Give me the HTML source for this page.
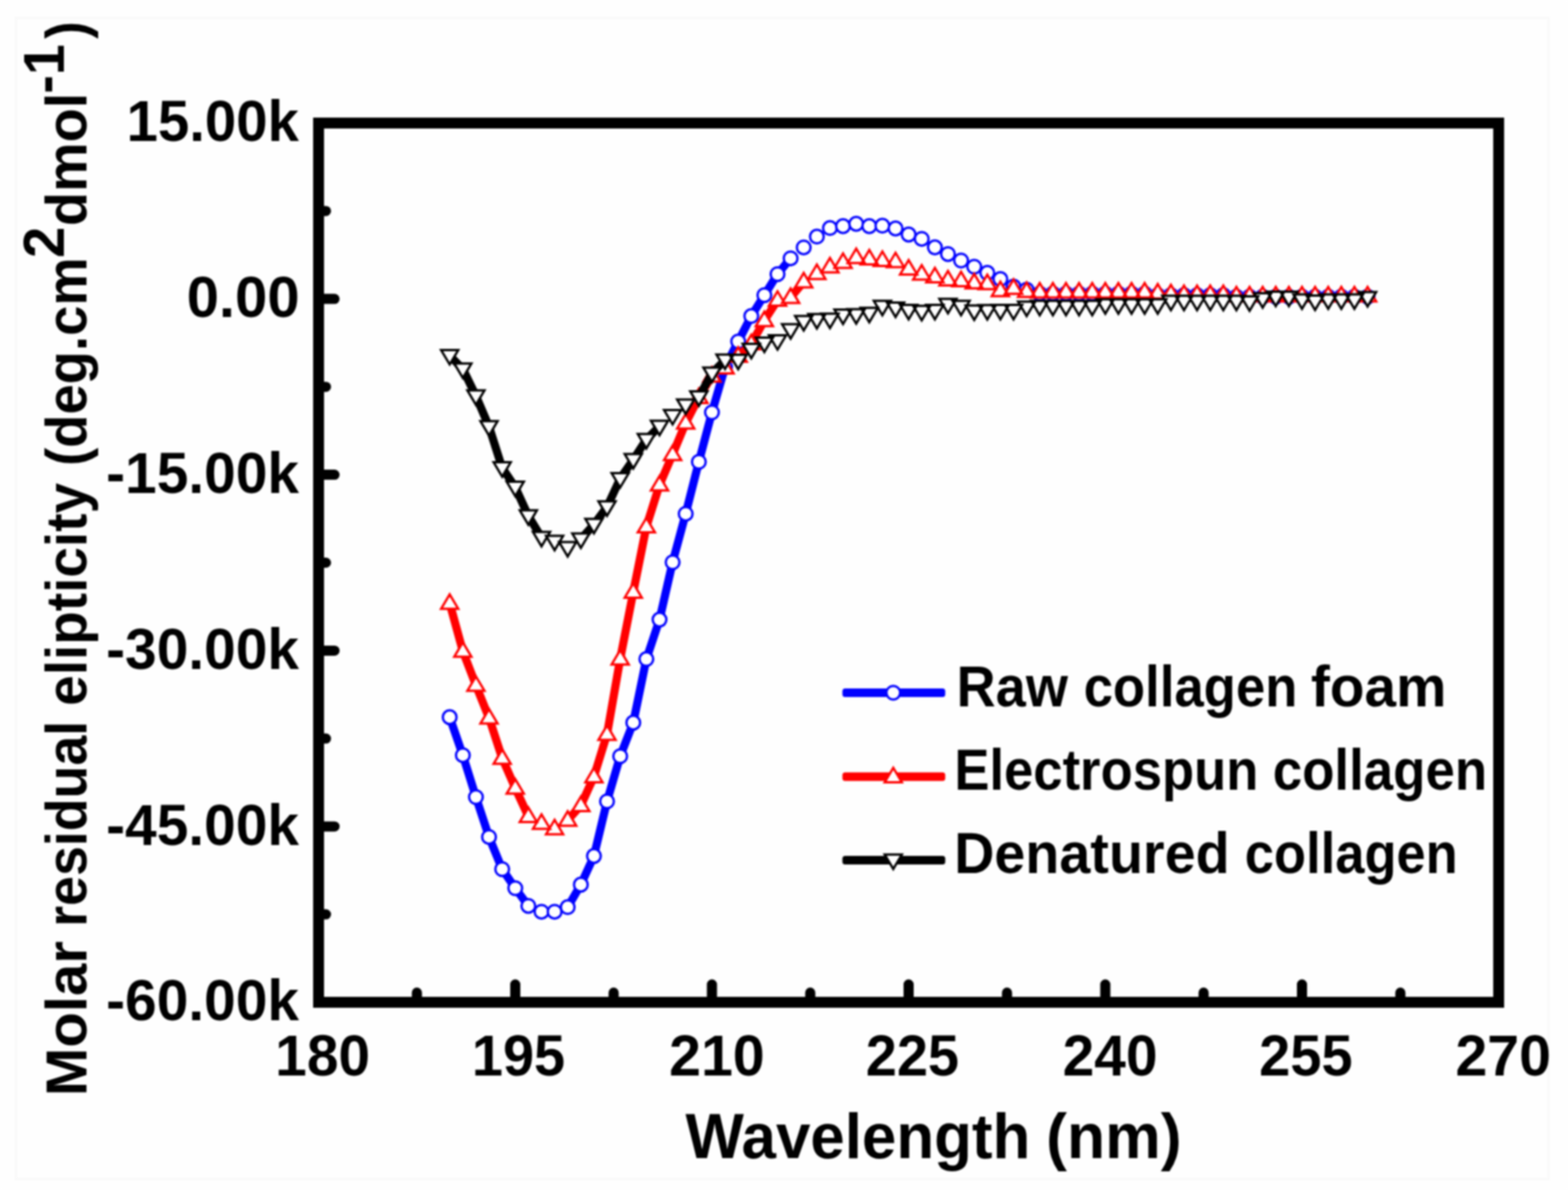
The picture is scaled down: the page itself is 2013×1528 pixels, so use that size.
<!DOCTYPE html>
<html lang="en">
<head>
<meta charset="utf-8">
<title>CD spectra of collagen</title>
<style>
html,body{margin:0;padding:0;background:#fefefe;}
body{width:2013px;height:1528px;overflow:hidden;font-family:"Liberation Sans",Arial,sans-serif;}
svg{display:block;filter:blur(1px);}
</style>
</head>
<body>
<svg width="2013" height="1528" viewBox="0 0 2013 1528" role="img" aria-label="Circular dichroism spectra" font-family="&quot;Liberation Sans&quot;, Arial, Helvetica, sans-serif" font-weight="bold">
<rect width="2013" height="1528" fill="#fefefe"/>
<rect x="20.5" y="23" width="1967.5" height="1491" fill="none" stroke="#f9f9f9" stroke-width="2.9"/>
<g id="s-blue"><path d="M577.3 920.9L594.2 969.7L611 1023.5L627.8 1074.7L644.7 1116L661.5 1140.5L678.3 1163.2M728.8 1164.8L745.7 1135.9L762.5 1099.1L779.3 1029L796.2 971L813 927.9L829.8 846.3L846.7 795.6L863.5 722L880.3 659.7L897.2 593L914 529.5L930.8 471.5L947.7 438.5L964.5 405.8L981.3 379L998.2 352L1015 331.7" fill="none" stroke="#0000ff" stroke-width="10.5" stroke-linejoin="round"/>
<g fill="#fff" stroke="#0000ff" stroke-width="3"><circle cx="577.3" cy="920.9" r="8.8"/><circle cx="594.2" cy="969.7" r="8.8"/><circle cx="611" cy="1023.5" r="8.8"/><circle cx="627.8" cy="1074.7" r="8.8"/><circle cx="644.7" cy="1116" r="8.8"/><circle cx="661.5" cy="1140.5" r="8.8"/><circle cx="678.3" cy="1163.2" r="8.8"/><circle cx="695.2" cy="1170.7" r="8.8"/><circle cx="712" cy="1170.7" r="8.8"/><circle cx="728.8" cy="1164.8" r="8.8"/><circle cx="745.7" cy="1135.9" r="8.8"/><circle cx="762.5" cy="1099.1" r="8.8"/><circle cx="779.3" cy="1029" r="8.8"/><circle cx="796.2" cy="971" r="8.8"/><circle cx="813" cy="927.9" r="8.8"/><circle cx="829.8" cy="846.3" r="8.8"/><circle cx="846.7" cy="795.6" r="8.8"/><circle cx="863.5" cy="722" r="8.8"/><circle cx="880.3" cy="659.7" r="8.8"/><circle cx="897.2" cy="593" r="8.8"/><circle cx="914" cy="529.5" r="8.8"/><circle cx="930.8" cy="471.5" r="8.8"/><circle cx="947.7" cy="438.5" r="8.8"/><circle cx="964.5" cy="405.8" r="8.8"/><circle cx="981.3" cy="379" r="8.8"/><circle cx="998.2" cy="352" r="8.8"/><circle cx="1015" cy="331.7" r="8.8"/><circle cx="1031.8" cy="317.7" r="8.8"/><circle cx="1048.7" cy="303.8" r="8.8"/><circle cx="1065.5" cy="292.8" r="8.8"/><circle cx="1082.3" cy="290.4" r="8.8"/><circle cx="1099.2" cy="287.4" r="8.8"/><circle cx="1116" cy="290.4" r="8.8"/><circle cx="1132.8" cy="289.8" r="8.8"/><circle cx="1149.7" cy="293.4" r="8.8"/><circle cx="1166.5" cy="301.1" r="8.8"/><circle cx="1183.3" cy="306.7" r="8.8"/><circle cx="1200.2" cy="317.6" r="8.8"/><circle cx="1217" cy="326.2" r="8.8"/><circle cx="1233.8" cy="334.5" r="8.8"/><circle cx="1250.7" cy="342.5" r="8.8"/><circle cx="1267.5" cy="350.4" r="8.8"/><circle cx="1284.3" cy="358.4" r="8.8"/><circle cx="1301.2" cy="368" r="8.8"/><circle cx="1318" cy="372" r="8.8"/><circle cx="1334.8" cy="377" r="8.8"/><circle cx="1351.7" cy="377" r="8.8"/><circle cx="1368.5" cy="377" r="8.8"/><circle cx="1385.3" cy="377" r="8.8"/><circle cx="1402.2" cy="377" r="8.8"/><circle cx="1419" cy="377" r="8.8"/><circle cx="1435.8" cy="377" r="8.8"/><circle cx="1452.7" cy="377" r="8.8"/><circle cx="1469.5" cy="377" r="8.8"/><circle cx="1486.3" cy="379" r="8.8"/><circle cx="1503.2" cy="379" r="8.8"/><circle cx="1520" cy="379" r="8.8"/><circle cx="1536.8" cy="379" r="8.8"/><circle cx="1553.7" cy="379" r="8.8"/><circle cx="1570.5" cy="379" r="8.8"/><circle cx="1587.3" cy="381" r="8.8"/><circle cx="1604.2" cy="381" r="8.8"/><circle cx="1621" cy="381" r="8.8"/><circle cx="1637.8" cy="381" r="8.8"/><circle cx="1654.7" cy="381" r="8.8"/><circle cx="1671.5" cy="381" r="8.8"/><circle cx="1688.3" cy="381" r="8.8"/><circle cx="1705.2" cy="381" r="8.8"/><circle cx="1722" cy="381" r="8.8"/><circle cx="1738.8" cy="381" r="8.8"/><circle cx="1755.7" cy="381" r="8.8"/></g></g>
<g id="s-red"><path d="M577.3 774.5L594.2 836.1L611 879.9L627.8 921.7L644.7 973.5L661.5 1011.8L678.3 1048.2M728.8 1053.1L745.7 1034.2L762.5 997.3L779.3 942.8L796.2 846.1L813 760.2L829.8 676.4L846.7 622.6L863.5 583.5L880.3 543.1L897.2 510.3L914 482.8M947.7 457.3L964.5 441.3L981.3 411.5L998.2 385.4M1015 381.8L1031.8 361.8" fill="none" stroke="#ff0000" stroke-width="10.5" stroke-linejoin="round"/>
<path fill="#fff" stroke="#ff0000" stroke-width="3" stroke-linejoin="miter" d="M566.3 781.7L588.3 781.7L577.3 763.2ZM583.2 843.3L605.2 843.3L594.2 824.8ZM600 887.1L622 887.1L611 868.6ZM616.8 928.9L638.8 928.9L627.8 910.4ZM633.7 980.7L655.7 980.7L644.7 962.2ZM650.5 1019L672.5 1019L661.5 1000.5ZM667.3 1055.4L689.3 1055.4L678.3 1036.9ZM684.2 1064.3L706.2 1064.3L695.2 1045.8ZM701 1071.3L723 1071.3L712 1052.8ZM717.8 1060.3L739.8 1060.3L728.8 1041.8ZM734.7 1041.4L756.7 1041.4L745.7 1022.9ZM751.5 1004.5L773.5 1004.5L762.5 986ZM768.3 950L790.3 950L779.3 931.5ZM785.2 853.3L807.2 853.3L796.2 834.8ZM802 767.4L824 767.4L813 748.9ZM818.8 683.6L840.8 683.6L829.8 665.1ZM835.7 629.8L857.7 629.8L846.7 611.3ZM852.5 590.7L874.5 590.7L863.5 572.2ZM869.3 550.3L891.3 550.3L880.3 531.8ZM886.2 517.5L908.2 517.5L897.2 499ZM903 490L925 490L914 471.5ZM919.8 479.5L941.8 479.5L930.8 461ZM936.7 464.5L958.7 464.5L947.7 446ZM953.5 448.5L975.5 448.5L964.5 430ZM970.3 418.7L992.3 418.7L981.3 400.2ZM987.2 392.6L1009.2 392.6L998.2 374.1ZM1004 389L1026 389L1015 370.5ZM1020.8 369L1042.8 369L1031.8 350.5ZM1037.7 358.3L1059.7 358.3L1048.7 339.8ZM1054.5 349.8L1076.5 349.8L1065.5 331.3ZM1071.3 343.9L1093.3 343.9L1082.3 325.4ZM1088.2 337.8L1110.2 337.8L1099.2 319.3ZM1105 339.5L1127 339.5L1116 321ZM1121.8 341.5L1143.8 341.5L1132.8 323ZM1138.7 343.1L1160.7 343.1L1149.7 324.6ZM1155.5 352.4L1177.5 352.4L1166.5 333.9ZM1172.3 359L1194.3 359L1183.3 340.5ZM1189.2 362.4L1211.2 362.4L1200.2 343.9ZM1206 366.4L1228 366.4L1217 347.9ZM1222.8 367.4L1244.8 367.4L1233.8 348.9ZM1239.7 370.3L1261.7 370.3L1250.7 351.8ZM1256.5 371.3L1278.5 371.3L1267.5 352.8ZM1273.3 380.3L1295.3 380.3L1284.3 361.8ZM1290.2 377.3L1312.2 377.3L1301.2 358.8ZM1307 381.3L1329 381.3L1318 362.8ZM1323.8 382L1345.8 382L1334.8 363.5ZM1340.7 382L1362.7 382L1351.7 363.5ZM1357.5 382L1379.5 382L1368.5 363.5ZM1374.3 382L1396.3 382L1385.3 363.5ZM1391.2 382L1413.2 382L1402.2 363.5ZM1408 382L1430 382L1419 363.5ZM1424.8 382L1446.8 382L1435.8 363.5ZM1441.7 382L1463.7 382L1452.7 363.5ZM1458.5 382L1480.5 382L1469.5 363.5ZM1475.3 383.3L1497.3 383.3L1486.3 364.8ZM1492.2 384.3L1514.2 384.3L1503.2 365.8ZM1509 385.3L1531 385.3L1520 366.8ZM1525.8 385.3L1547.8 385.3L1536.8 366.8ZM1542.7 385.3L1564.7 385.3L1553.7 366.8ZM1559.5 385.3L1581.5 385.3L1570.5 366.8ZM1576.3 387L1598.3 387L1587.3 368.5ZM1593.2 387L1615.2 387L1604.2 368.5ZM1610 387L1632 387L1621 368.5ZM1626.8 387L1648.8 387L1637.8 368.5ZM1643.7 387L1665.7 387L1654.7 368.5ZM1660.5 387L1682.5 387L1671.5 368.5ZM1677.3 387L1699.3 387L1688.3 368.5ZM1694.2 387L1716.2 387L1705.2 368.5ZM1711 387L1733 387L1722 368.5ZM1727.8 387L1749.8 387L1738.8 368.5ZM1744.7 387L1766.7 387L1755.7 368.5Z"/></g>
<g id="s-black"><path d="M577.3 456.6L594.2 473.9L611 508.4L627.8 547.9L644.7 600.8L661.5 625.7L678.3 662.5L695.2 690.2M745.7 692.3L762.5 673.4L779.3 651L796.2 614.6L813 590.3L829.8 564.4L846.7 547.5M897.2 509.7L914 479.2L930.8 462.4" fill="none" stroke="#000" stroke-width="10.5" stroke-linejoin="round"/>
<path fill="#fff" stroke="#000" stroke-width="3" stroke-linejoin="miter" d="M566.3 449.4L588.3 449.4L577.3 467.9ZM583.2 466.7L605.2 466.7L594.2 485.2ZM600 501.2L622 501.2L611 519.7ZM616.8 540.7L638.8 540.7L627.8 559.2ZM633.7 593.6L655.7 593.6L644.7 612.1ZM650.5 618.5L672.5 618.5L661.5 637ZM667.3 655.3L689.3 655.3L678.3 673.8ZM684.2 683L706.2 683L695.2 701.5ZM701 688.1L723 688.1L712 706.6ZM717.8 696.1L739.8 696.1L728.8 714.6ZM734.7 685.1L756.7 685.1L745.7 703.6ZM751.5 666.2L773.5 666.2L762.5 684.7ZM768.3 643.8L790.3 643.8L779.3 662.3ZM785.2 607.4L807.2 607.4L796.2 625.9ZM802 583.1L824 583.1L813 601.6ZM818.8 557.2L840.8 557.2L829.8 575.7ZM835.7 540.3L857.7 540.3L846.7 558.8ZM852.5 526.4L874.5 526.4L863.5 544.9ZM869.3 513.1L891.3 513.1L880.3 531.6ZM886.2 502.5L908.2 502.5L897.2 521ZM903 472L925 472L914 490.5ZM919.8 455.2L941.8 455.2L930.8 473.7ZM936.7 455.5L958.7 455.5L947.7 474ZM953.5 441.5L975.5 441.5L964.5 460ZM970.3 433.6L992.3 433.6L981.3 452.1ZM987.2 430.4L1009.2 430.4L998.2 448.9ZM1004 416.3L1026 416.3L1015 434.8ZM1020.8 405.7L1042.8 405.7L1031.8 424.2ZM1037.7 403.3L1059.7 403.3L1048.7 421.8ZM1054.5 402.8L1076.5 402.8L1065.5 421.3ZM1071.3 397.6L1093.3 397.6L1082.3 416.1ZM1088.2 397L1110.2 397L1099.2 415.5ZM1105 395.2L1127 395.2L1116 413.7ZM1121.8 386.3L1143.8 386.3L1132.8 404.8ZM1138.7 388.6L1160.7 388.6L1149.7 407.1ZM1155.5 391.6L1177.5 391.6L1166.5 410.1ZM1172.3 392.8L1194.3 392.8L1183.3 411.3ZM1189.2 391.6L1211.2 391.6L1200.2 410.1ZM1206 383.7L1228 383.7L1217 402.2ZM1222.8 386.3L1244.8 386.3L1233.8 404.8ZM1239.7 392.2L1261.7 392.2L1250.7 410.7ZM1256.5 391.8L1278.5 391.8L1267.5 410.3ZM1273.3 391.6L1295.3 391.6L1284.3 410.1ZM1290.2 391.6L1312.2 391.6L1301.2 410.1ZM1307 387.2L1329 387.2L1318 405.7ZM1323.8 386.3L1345.8 386.3L1334.8 404.8ZM1340.7 386.3L1362.7 386.3L1351.7 404.8ZM1357.5 386.3L1379.5 386.3L1368.5 404.8ZM1374.3 386.3L1396.3 386.3L1385.3 404.8ZM1391.2 386.3L1413.2 386.3L1402.2 404.8ZM1408 384.3L1430 384.3L1419 402.8ZM1424.8 384.3L1446.8 384.3L1435.8 402.8ZM1441.7 384.3L1463.7 384.3L1452.7 402.8ZM1458.5 384.3L1480.5 384.3L1469.5 402.8ZM1475.3 384.3L1497.3 384.3L1486.3 402.8ZM1492.2 379.8L1514.2 379.8L1503.2 398.3ZM1509 379.8L1531 379.8L1520 398.3ZM1525.8 379.8L1547.8 379.8L1536.8 398.3ZM1542.7 379.8L1564.7 379.8L1553.7 398.3ZM1559.5 379.8L1581.5 379.8L1570.5 398.3ZM1576.3 379.8L1598.3 379.8L1587.3 398.3ZM1593.2 380.6L1615.2 380.6L1604.2 399.1ZM1610 376.6L1632 376.6L1621 395.1ZM1626.8 374.6L1648.8 374.6L1637.8 393.1ZM1643.7 374.6L1665.7 374.6L1654.7 393.1ZM1660.5 378L1682.5 378L1671.5 396.5ZM1677.3 379.6L1699.3 379.6L1688.3 398.1ZM1694.2 378L1716.2 378L1705.2 396.5ZM1711 378L1733 378L1722 396.5ZM1727.8 378L1749.8 378L1738.8 396.5ZM1744.7 375L1766.7 375L1755.7 393.5Z"/></g>
<g id="axes" stroke="#000" fill="none">
<rect x="409" y="158" width="1515" height="1129" stroke-width="14" stroke-linejoin="miter"/>
<path d="M535.2 1287L535.2 1274.5M661.5 1287L661.5 1264M787.8 1287L787.8 1274.5M914 1287L914 1264M1040.2 1287L1040.2 1274.5M1166.5 1287L1166.5 1264M1292.8 1287L1292.8 1274.5M1419 1287L1419 1264M1545.2 1287L1545.2 1274.5M1671.5 1287L1671.5 1264M1797.8 1287L1797.8 1274.5M409 270.9L418.5 270.9M409 383.8L429.5 383.8M409 496.7L418.5 496.7M409 609.6L429.5 609.6M409 722.5L418.5 722.5M409 835.4L429.5 835.4M409 948.3L418.5 948.3M409 1061.2L429.5 1061.2M409 1174.1L418.5 1174.1" stroke-width="13" stroke-linecap="round"/>
</g>
<g id="labels" fill="#000">
<text y="181.3" font-size="74"><tspan x="162.58" textLength="221.23" lengthAdjust="spacingAndGlyphs">15.00k</tspan></text>
<text y="407.1" font-size="74"><tspan x="239.72" textLength="144.86" lengthAdjust="spacingAndGlyphs">0.00</tspan></text>
<text y="632.9" font-size="74"><tspan x="136.28" textLength="247.56" lengthAdjust="spacingAndGlyphs">-15.00k</tspan></text>
<text y="858.7" font-size="74"><tspan x="136.28" textLength="247.56" lengthAdjust="spacingAndGlyphs">-30.00k</tspan></text>
<text y="1084.5" font-size="74"><tspan x="136.28" textLength="247.56" lengthAdjust="spacingAndGlyphs">-45.00k</tspan></text>
<text y="1310.3" font-size="74"><tspan x="136.28" textLength="247.56" lengthAdjust="spacingAndGlyphs">-60.00k</tspan></text>
<text y="1380.5" font-size="74"><tspan x="353.34" textLength="121.75" lengthAdjust="spacingAndGlyphs">180</tspan></text>
<text y="1380.5" font-size="74"><tspan x="605.71" textLength="119.84" lengthAdjust="spacingAndGlyphs">195</tspan></text>
<text y="1380.5" font-size="74"><tspan x="859.02" textLength="122.79" lengthAdjust="spacingAndGlyphs">210</tspan></text>
<text y="1380.5" font-size="74"><tspan x="1111.49" textLength="119.76" lengthAdjust="spacingAndGlyphs">225</tspan></text>
<text y="1380.5" font-size="74"><tspan x="1364.25" textLength="121.75" lengthAdjust="spacingAndGlyphs">240</tspan></text>
<text y="1380.5" font-size="74"><tspan x="1616.48" textLength="119.97" lengthAdjust="spacingAndGlyphs">255</tspan></text>
<text y="1380.5" font-size="74"><tspan x="1868.42" textLength="122.90" lengthAdjust="spacingAndGlyphs">270</tspan></text>
<text y="1486.8" font-size="82"><tspan x="879.90" textLength="442.96" lengthAdjust="spacingAndGlyphs">Wavelength</tspan> <tspan x="1342.88" textLength="174.02" lengthAdjust="spacingAndGlyphs">(nm)</tspan></text>
<text y="906.6" font-size="74"><tspan x="1228.11" textLength="142.90" lengthAdjust="spacingAndGlyphs">Raw</tspan> <tspan x="1391.19" textLength="274.39" lengthAdjust="spacingAndGlyphs">collagen</tspan> <tspan x="1683.03" textLength="173.86" lengthAdjust="spacingAndGlyphs">foam</tspan></text>
<text y="1014" font-size="74"><tspan x="1225.24" textLength="390.21" lengthAdjust="spacingAndGlyphs">Electrospun</tspan> <tspan x="1633.88" textLength="275.41" lengthAdjust="spacingAndGlyphs">collagen</tspan></text>
<text y="1121.4" font-size="74"><tspan x="1224.97" textLength="353.61" lengthAdjust="spacingAndGlyphs">Denatured</tspan> <tspan x="1598.10" textLength="273.36" lengthAdjust="spacingAndGlyphs">collagen</tspan></text>
<text transform="translate(111.4 0) rotate(-90)" font-size="74"><tspan x="-1407.44" y="0" textLength="199.02" lengthAdjust="spacingAndGlyphs">Molar</tspan> <tspan x="-1190.08" y="0" textLength="264.62" lengthAdjust="spacingAndGlyphs">residual</tspan> <tspan x="-906.32" y="0" textLength="286.20" lengthAdjust="spacingAndGlyphs">elipticity</tspan> <tspan x="-598.19" y="0" textLength="267.90" lengthAdjust="spacingAndGlyphs">(deg.cm</tspan><tspan x="-331.22" y="-29.8" textLength="40.11" lengthAdjust="spacingAndGlyphs">2</tspan><tspan x="-290.26" y="0" textLength="171.07" lengthAdjust="spacingAndGlyphs">dmol</tspan><tspan x="-120.26" y="-29.8" textLength="63.65" lengthAdjust="spacingAndGlyphs">-1</tspan><tspan x="-49.87" y="0" textLength="22.48" lengthAdjust="spacingAndGlyphs">)</tspan></text>
</g>
<g id="legend">
<rect x="1081.5" y="884" width="132" height="11" rx="3.5" fill="#0000ff"/>
<circle cx="1146.8" cy="889.5" r="8.8" fill="#fff" stroke="#0000ff" stroke-width="3"/>
<rect x="1081.5" y="991.8" width="132" height="11" rx="3.5" fill="#ff0000"/>
<path d="M1135.8 1004.5L1157.8 1004.5L1146.8 986Z" fill="#fff" stroke="#ff0000" stroke-width="3"/>
<rect x="1081.5" y="1099" width="132" height="11" rx="3.5" fill="#000"/>
<path d="M1135.8 1097.3L1157.8 1097.3L1146.8 1115.8Z" fill="#fff" stroke="#000" stroke-width="3"/>
</g>
</svg>
</body>
</html>
